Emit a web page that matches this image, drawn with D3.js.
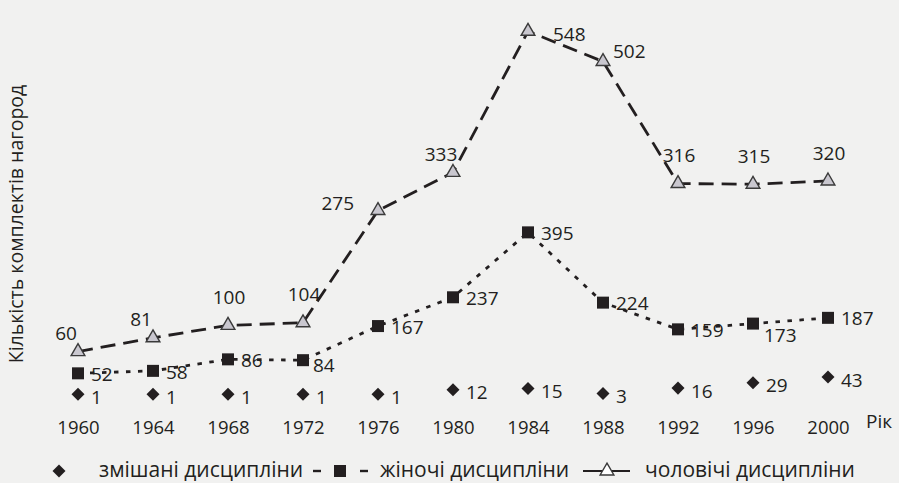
<!DOCTYPE html>
<html lang="uk">
<head>
<meta charset="utf-8">
<script src="https://cdn.jsdelivr.net/npm/d3@7/dist/d3.min.js"></script>
<style>
  html, body { margin: 0; padding: 0; background: #f1f1f0; }
  svg { display: block; font-family: "Open Sans", "Noto Sans", sans-serif; }
</style>
</head>
<body>
<div id="chart"></div>
<script>
// роки Олімпіад
const years = [1960, 1964, 1968, 1972, 1976, 1980, 1984, 1988, 1992, 1996, 2000];

// кількість комплектів нагород
const mixedValues = [1, 1, 1, 1, 1, 12, 15, 3, 16, 29, 43];
const womenValues = [52, 58, 86, 84, 167, 237, 395, 224, 159, 173, 187];
const menValues = [60, 81, 100, 104, 275, 333, 548, 502, 316, 315, 320];

// where each value label sits relative to its marker
const menLabelPlace = ['aboveLeft', 'aboveLeft', 'above', 'above', 'left', 'aboveLeft', 'right', 'rightUp', 'above', 'above', 'above'];
const womenLabelPlace = ['right', 'right', 'right', 'rightDown', 'right', 'right', 'right', 'right', 'right', 'below', 'right'];

const legendLabels = ['змішані дисципліни', 'жіночі дисципліни', 'чоловічі дисципліни'];
const yTitle = 'Кількість комплектів нагород';
const xTitle = 'Рік';

const width = 899;
const height = 483;
const ink = '#231f20';

const svg = d3.select('#chart')
  .append('svg')
  .attr('width', width)
  .attr('height', height)
  .attr('viewBox', `0 0 ${width} ${height}`);

const x = d3.scaleLinear().domain([1960, 2000]).range([78, 828]);
// the printed chart draws women/mixed and men on different vertical scales
const yMain = d3.scaleLinear().domain([0, 400]).range([394.7, 230.3]);
const yMen = d3.scaleLinear().domain([0, 550]).range([391, 30]);

const toPoints = (values) => years.map((year, i) => ({ year, value: values[i] }));
const mixed = toPoints(mixedValues);
const women = toPoints(womenValues);
const men = toPoints(menValues);

// x axis: year labels only
const xAxis = svg.append('g')
  .attr('transform', 'translate(0, 428)')
  .call(d3.axisBottom(x).tickValues(years).tickFormat(d3.format('d')).tickSize(0).tickPadding(0));
xAxis.select('.domain').remove();
xAxis.selectAll('text')
  .attr('dy', '0.35em')
  .attr('fill', ink)
  .style('font-size', '18.5px')
  .style('font-family', '"Open Sans", sans-serif');

svg.append('text')
  .attr('x', 866)
  .attr('y', 428)
  .attr('fill', ink)
  .style('font-size', '19px')
  .text(xTitle);

svg.append('text')
  .attr('transform', 'translate(23, 224) rotate(-90)')
  .attr('text-anchor', 'middle')
  .attr('fill', ink)
  .style('font-size', '19.5px')
  .text(yTitle);

// lines
const menLine = d3.line().x(d => x(d.year)).y(d => yMen(d.value));
const mainLine = d3.line().x(d => x(d.year)).y(d => yMain(d.value));

svg.append('path')
  .datum(women)
  .attr('fill', 'none')
  .attr('stroke', ink)
  .attr('stroke-width', 2.8)
  .attr('stroke-dasharray', '4.5 7.5')
  .attr('d', mainLine);

svg.append('path')
  .datum(men)
  .attr('fill', 'none')
  .attr('stroke', ink)
  .attr('stroke-width', 2.8)
  .attr('stroke-dasharray', '15 8')
  .attr('d', menLine);

// markers
const triangle = d3.symbol().type(d3.symbolTriangle).size(82);
const square = d3.symbol().type(d3.symbolSquare).size(144);
const diamond = d3.symbol().type(d3.symbolSquare).size(85);

svg.append('g')
  .selectAll('path')
  .data(mixed)
  .join('path')
  .attr('d', diamond)
  .attr('transform', d => `translate(${x(d.year)}, ${yMain(d.value)}) rotate(45)`)
  .attr('fill', ink);

svg.append('g')
  .selectAll('path')
  .data(women)
  .join('path')
  .attr('d', square)
  .attr('transform', d => `translate(${x(d.year)}, ${yMain(d.value)})`)
  .attr('fill', ink);

svg.append('g')
  .selectAll('path')
  .data(men)
  .join('path')
  .attr('d', triangle)
  .attr('transform', d => `translate(${x(d.year)}, ${yMen(d.value)})`)
  .attr('fill', '#c9c7cf')
  .attr('stroke', '#3a3a3a')
  .attr('stroke-width', 1.4);

// value labels
const placeOffsets = {
  right: { dx: 13, dy: 1, anchor: 'start' },
  rightDown: { dx: 10, dy: 5, anchor: 'start' },
  below: { dx: 11, dy: 12, anchor: 'start' },
  rightUp: { dx: 10, dy: -10, anchor: 'start' },
  above: { dx: 1, dy: -28, anchor: 'middle' },
  aboveLeft: { dx: -12, dy: -18, anchor: 'middle' },
  left: { dx: -24, dy: -7, anchor: 'end' }
};
const menRight = { dx: 25, dy: 3 };

function addLabels(points, yScale, places, dyShift) {
  svg.append('g')
    .selectAll('text')
    .data(points)
    .join('text')
    .each(function (d, i) {
      const place = places ? places[i] : 'right';
      let off = placeOffsets[place];
      if (yScale === yMen && place === 'right') off = { ...off, ...menRight };
      d3.select(this)
        .attr('x', x(d.year) + off.dx)
        .attr('y', yScale(d.value) + off.dy + dyShift)
        .attr('dy', '0.35em')
        .attr('text-anchor', off.anchor);
    })
    .attr('fill', ink)
    .style('font-size', '19px')
    .text(d => d.value);
}

addLabels(mixed, yMain, null, 2);
addLabels(women, yMain, womenLabelPlace, 0);
addLabels(men, yMen, menLabelPlace, 0);

// legend
const legend = svg.append('g').attr('transform', 'translate(0, 471)');

legend.append('path')
  .attr('d', diamond)
  .attr('transform', 'translate(59, 0) rotate(45)')
  .attr('fill', ink);

[[313, 321], [360, 368]].forEach(([a, b]) => {
  legend.append('line')
    .attr('x1', a).attr('x2', b)
    .attr('stroke', ink).attr('stroke-width', 2.4);
});
legend.append('path')
  .attr('d', square)
  .attr('transform', 'translate(340, 0)')
  .attr('fill', ink);

legend.append('line')
  .attr('x1', 583).attr('x2', 630)
  .attr('stroke', ink).attr('stroke-width', 2.2);
legend.append('path')
  .attr('d', triangle)
  .attr('transform', 'translate(607, 0)')
  .attr('fill', '#ffffff')
  .attr('stroke', '#3a3a3a')
  .attr('stroke-width', 1.4);

const legendStarts = [99, 380, 645];
legend.selectAll('text.item')
  .data(legendLabels)
  .join('text')
  .attr('class', 'item')
  .attr('x', (d, i) => legendStarts[i])
  .attr('y', 6)
  .attr('fill', ink)
  .style('font-size', '21px')
  .text(d => d);
</script>
</body>
</html>
